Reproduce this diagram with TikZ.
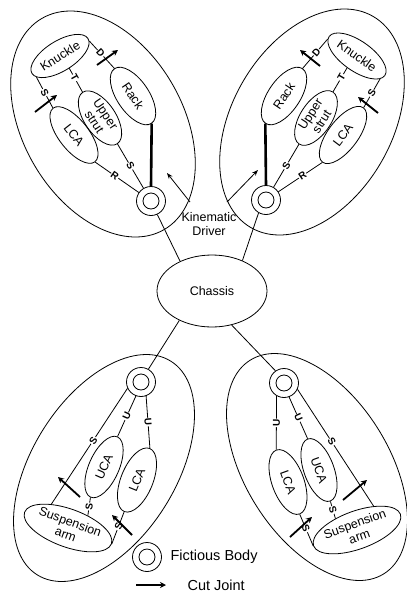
\documentclass[tikz,border=0pt]{standalone}
\usepackage{fontspec}
\setmainfont{Liberation Sans}
\usetikzlibrary{shapes.geometric,arrows.meta}
\begin{document}
\begin{tikzpicture}[x=1pt,y=-1pt,
  every node/.style={font=\fontsize{12.5}{13.5}\selectfont},
  ln/.style={line width=0.8pt},
  ell/.style={ellipse, draw, line width=0.8pt, inner sep=0pt, align=center},
  outer/.style={ellipse, draw, line width=0.8pt, inner sep=0pt},
  fict/.style={circle, draw, line width=0.8pt, minimum size=29pt, inner sep=0pt,
     path picture={\draw[line width=0.8pt] (path picture bounding box.center) circle (8pt);}},
  jl/.style={sloped, fill=white, inner sep=0.6pt, font=\fontsize{10}{10}\selectfont\bfseries},
  cut/.style={line width=1.8pt, -{Stealth[length=6pt,width=6pt]}},
  kd/.style={line width=0.8pt, -{Stealth[length=6pt,width=4.5pt]}},
  drv/.style={line width=2.6pt},
]
\useasboundingbox (0,0) rectangle (407,595);

% outer groups
\node[outer, minimum width=244, minimum height=160, rotate=-60] (O1) at (103,124) {};
\node[outer, minimum width=244, minimum height=160, rotate=60] (O2) at (312,122) {};
\node[outer, minimum width=252, minimum height=144, rotate=58] (O3) at (104,468) {};
\node[outer, minimum width=252, minimum height=144, rotate=-58] (O4) at (317,467) {};

% chassis
\node[ell, minimum width=110, minimum height=72] (ch) at (212,291) {Chassis};

% top-left
\node[ell, minimum width=66, minimum height=30, rotate=32] (K1) at (60,56) {Knuckle};
\node[ell, minimum width=66, minimum height=32, rotate=-56] (R1) at (133,96) {Rack};
\node[ell, minimum width=62, minimum height=30, rotate=-56] (U1) at (100,118) {Upper\\strut};
\node[ell, minimum width=68, minimum height=30, rotate=-52] (L1) at (74,135) {LCA};
\node[fict] (F1) at (151,201) {};

% top-right
\node[ell, minimum width=68, minimum height=30, rotate=-35] (K2) at (357,56) {Knuckle};
\node[ell, minimum width=66, minimum height=32, rotate=56] (R2) at (284,96) {Rack};
\node[ell, minimum width=62, minimum height=30, rotate=57] (U2) at (316,118) {Upper\\strut};
\node[ell, minimum width=68, minimum height=30, rotate=53] (L2) at (343,135) {LCA};
\node[fict] (F2) at (266,200) {};

% bottom-left
\node[fict] (F3) at (141,382) {};
\node[ell, minimum width=66, minimum height=30, rotate=66] (UCA3) at (104,467) {UCA};
\node[ell, minimum width=68, minimum height=32, rotate=68] (LCA3) at (137,480) {LCA};
\node[ell, minimum width=92, minimum height=38, rotate=-20] (S3) at (68,528) {Suspension\\arm};

% bottom-right
\node[fict] (F4) at (284,383) {};
\node[ell, minimum width=68, minimum height=32, rotate=-70] (LCA4) at (288,482) {LCA};
\node[ell, minimum width=66, minimum height=30, rotate=-70] (UCA4) at (319,470) {UCA};
\node[ell, minimum width=92, minimum height=38, rotate=20] (S4) at (357,530) {Suspension\\arm};

% top-left joints
\draw[ln] (K1.190) -- node[jl,pos=0.5]{S} (L1.west);
\draw[ln] (K1.275) -- node[jl,pos=0.4]{T} (U1.west);
\draw[ln] (K1.355) -- node[jl,pos=0.45]{D} (R1.west);
\draw[ln] (L1.east) -- node[jl,pos=0.45]{R} (F1);
\draw[ln] (U1.east) -- node[jl,pos=0.5]{S} (F1);
\draw[drv] (R1.east) -- (F1.north);

% top-right joints
\draw[ln] (K2.350) -- node[jl,pos=0.5]{S} (L2.east);
\draw[ln] (K2.265) -- node[jl,pos=0.4]{T} (U2.east);
\draw[ln] (K2.185) -- node[jl,pos=0.45]{D} (R2.east);
\draw[ln] (L2.west) -- node[jl,pos=0.45]{R} (F2);
\draw[ln] (U2.west) -- node[jl,pos=0.5]{S} (F2);
\draw[drv] (R2.west) -- (F2.north);

% bottom-left joints
\draw[ln] (F3.205) -- node[jl,pos=0.45]{S} (S3.145);
\draw[ln] (F3.250) -- node[jl,pos=0.5]{U} (UCA3.east);
\draw[ln] (F3.290) -- node[jl,pos=0.5]{U} (LCA3.east);
\draw[ln] (UCA3.west) -- node[jl,pos=0.5]{S} (S3.52);
\draw[ln] (LCA3.west) -- node[jl,pos=0.45]{S} (S3.east);

% bottom-right joints
\draw[ln] (F4.335) -- node[jl,pos=0.45]{S} (S4.35);
\draw[ln] (F4.240) -- node[jl,pos=0.5]{U} (LCA4.west);
\draw[ln] (F4.290) -- node[jl,pos=0.5]{U} (UCA4.west);
\draw[ln] (UCA4.east) -- node[jl,pos=0.5]{S} (S4.132);
\draw[ln] (LCA4.east) -- node[jl,pos=0.45]{S} (S4.west);

% chassis links
\draw[ln] (F1.295) -- (ch.137);
\draw[ln] (F2.240) -- (ch.45);
\draw[ln] (ch.222) -- (F3.60);
\draw[ln] (ch.300) -- (F4.125);

% cut joints
\coordinate (a1t) at (35,112); \coordinate (a1h) at (57,95);
\coordinate (a2t) at (97,65);  \coordinate (a2h) at (118,50);
\coordinate (a3t) at (320,66); \coordinate (a3h) at (300,50);
\coordinate (a4t) at (378,113); \coordinate (a4h) at (358,97);
\coordinate (a5t) at (80,497); \coordinate (a5h) at (58,477);
\coordinate (a6t) at (132,535); \coordinate (a6h) at (112,515);
\coordinate (a7t) at (343,500); \coordinate (a7h) at (367,480);
\coordinate (a8t) at (290,537); \coordinate (a8h) at (312,517);
\foreach \i in {1,...,8} {\draw[cut] (a\i t) -- (a\i h);}

% kinematic driver
\node[align=center, font=\fontsize{12.5}{14}\selectfont] (KD) at (209,224) {Kinematic\\Driver};
\coordinate (kd1t) at (190,202); \coordinate (kd1h) at (167,173);
\coordinate (kd2t) at (227,202); \coordinate (kd2h) at (258,170);
\draw[kd] (kd1t) -- (kd1h);
\draw[kd] (kd2t) -- (kd2h);

% legend
\node[fict] (LF) at (147,557) {};
\node[anchor=west, font=\fontsize{14.5}{15}\selectfont] (LFt) at (167,557) {Fictious Body};
\coordinate (LCt) at (136,585); \coordinate (LCh) at (166,585);
\draw[cut, line width=1.5pt] (LCt) -- (LCh);
\node[anchor=west, font=\fontsize{14.5}{15}\selectfont] (LCx) at (184,585) {Cut Joint};
\end{tikzpicture}
\end{document}
